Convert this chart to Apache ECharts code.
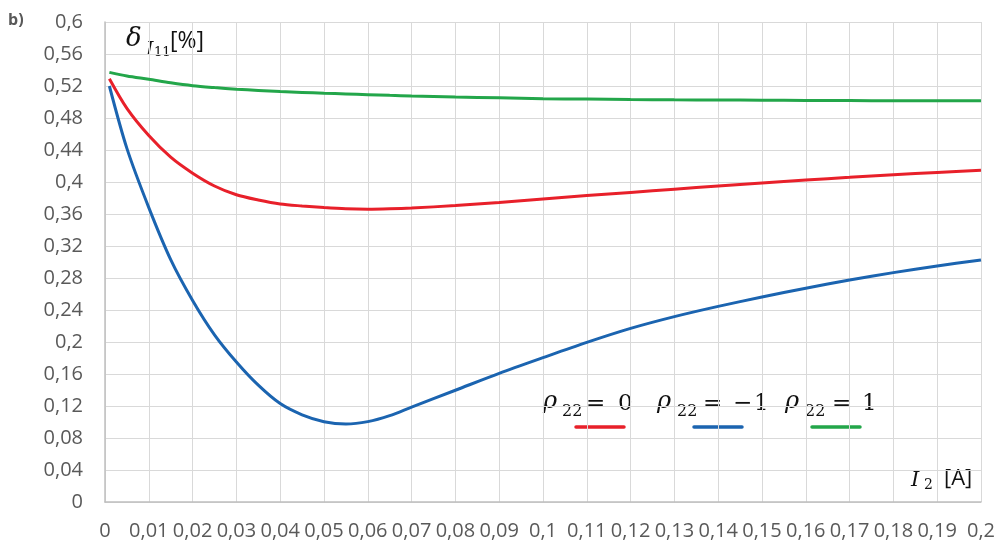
<!DOCTYPE html>
<html>
<head>
<meta charset="utf-8">
<script src="https://cdn.jsdelivr.net/npm/echarts@6/dist/echarts.min.js"></script>
<style>html,body{margin:0;padding:0;background:#fff}#c{width:998px;height:542px}</style>
</head>
<body>
<div id="c"></div>
<script>
var xValues = [0.001, 0.005, 0.01, 0.015, 0.02, 0.025, 0.03, 0.035, 0.04, 0.045, 0.05, 0.055, 0.06, 0.065, 0.07, 0.08, 0.09, 0.1, 0.11, 0.12, 0.13, 0.14, 0.15, 0.16, 0.17, 0.18, 0.19, 0.2];
var rho0 = [0.529, 0.492, 0.458, 0.431, 0.411, 0.395, 0.384, 0.3775, 0.3725, 0.370, 0.368, 0.3665, 0.366, 0.3665, 0.3675, 0.3705, 0.3745, 0.3788, 0.383, 0.387, 0.391, 0.395, 0.3988, 0.4025, 0.4058, 0.4092, 0.4120, 0.4146];
var rhoMinus1 = [0.52, 0.442, 0.368, 0.303, 0.252, 0.209, 0.175, 0.146, 0.123, 0.109, 0.1004, 0.0975, 0.1005, 0.108, 0.1187, 0.1397, 0.1608, 0.1804, 0.1995, 0.217, 0.2317, 0.2445, 0.2562, 0.2672, 0.2775, 0.2867, 0.295, 0.3025];
var rhoPlus1 = [0.537, 0.5325, 0.5284, 0.524, 0.5204, 0.518, 0.516, 0.5145, 0.513, 0.512, 0.511, 0.5101, 0.5092, 0.5083, 0.5075, 0.5062, 0.5052, 0.5042, 0.5036, 0.503, 0.5027, 0.5025, 0.5022, 0.502, 0.5018, 0.5016, 0.5015, 0.5015];

function pairs(ys){ return xValues.map(function(x,i){ return [x, ys[i]]; }); }
function fmt(v){ var s = (+v.toFixed(3)).toString(); return s.replace('.', ','); }

var gray = '#595959';
var labelFont = {color: gray, fontFamily: 'Open Sans', fontSize: 20};
var red = '#e8202a', blue = '#1b64b0', green = '#23a64a';
var serif = 'DejaVu Serif';

function txt(x, y, text, size, italic, family, color){
  return {type:'text', x:x, y:y, style:{text:text, fontSize:size, fontStyle: italic ? 'italic' : 'normal', fontFamily: family || serif, fill: color || '#111', textVerticalAlign:'middle'}};
}
function uline(x1, x2, color){
  return {type:'line', shape:{x1:x1, y1:427, x2:x2, y2:427}, style:{stroke:color, lineWidth:3.5, lineCap:'round'}};
}

var graphics = [
  {type:'text', x:8, y:20, style:{text:'b)', fontSize:16, fontWeight:'bold', fontFamily:'Open Sans', fill:gray, textVerticalAlign:'middle'}},
  txt(126, 39, '\u03b4', 26, true),
  txt(146, 50, 'I', 19, true),
  txt(154, 52.5, '11', 13, false),
  txt(170, 41, '[%]', 23, false, 'Open Sans'),
  txt(911, 481, 'I', 21, true),
  txt(924, 485, '2', 14, false),
  txt(944, 479, '[A]', 22, false, 'Open Sans'),
  // legend: rho_22 = 0
  txt(543, 401.5, '\u03c1', 24, true), txt(562, 411.5, '22', 16, false), txt(586, 404, '=', 23, false), txt(618, 404, '0', 23, false),
  uline(576, 624, red),
  // rho_22 = -1
  txt(657, 401.5, '\u03c1', 24, true), txt(677, 411.5, '22', 16, false), txt(703, 404, '=', 23, false), txt(733, 404, '\u2212', 23, false), txt(754, 404, '1', 23, false),
  uline(694, 742, blue),
  // rho_22 = 1
  txt(785, 401.5, '\u03c1', 24, true), txt(805, 411.5, '22', 16, false), txt(832, 404, '=', 23, false), txt(862, 404, '1', 23, false),
  uline(812, 860, green)
];

var chart = echarts.init(document.getElementById('c'), null, {renderer:'canvas'});
chart.setOption({
  animation: false,
  backgroundColor: '#fff',
  grid: {left:105, right:14, top:22, bottom:40, containLabel:false},
  xAxis: {
    type:'value', min:0, max:0.2, interval:0.01,
    axisLine:{show:true, lineStyle:{color:'#bfbfbf', width:1.5}},
    axisTick:{show:false},
    splitLine:{show:true, lineStyle:{color:'#d9d9d9', width:1}},
    axisLabel:Object.assign({margin:19, formatter:fmt, showMaxLabel:true, showMinLabel:true}, labelFont)
  },
  yAxis: {
    type:'value', min:0, max:0.6, interval:0.04,
    axisLine:{show:true, lineStyle:{color:'#bfbfbf', width:1.5}},
    axisTick:{show:false},
    splitLine:{show:true, lineStyle:{color:'#d9d9d9', width:1}},
    axisLabel:Object.assign({margin:22, formatter:fmt}, labelFont)
  },
  series: [
    {type:'line', data:pairs(rho0), smooth:0.3, symbol:'none', lineStyle:{color:red, width:3}},
    {type:'line', data:pairs(rhoMinus1), smooth:0.3, symbol:'none', lineStyle:{color:blue, width:3}},
    {type:'line', data:pairs(rhoPlus1), smooth:0.3, symbol:'none', lineStyle:{color:green, width:3}}
  ],
  graphic: graphics
});
</script>
</body>
</html>
